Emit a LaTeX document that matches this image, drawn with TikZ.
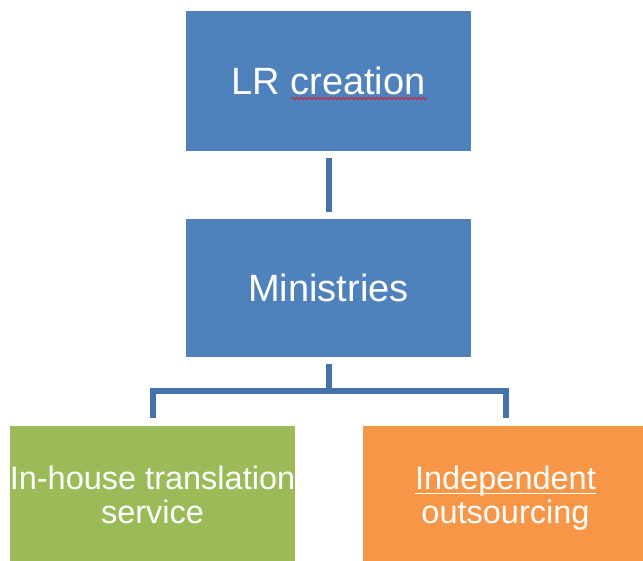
\documentclass[tikz,border=0pt]{standalone}
\usepackage{fontspec}
\setmainfont{Liberation Sans}
\usetikzlibrary{decorations.pathmorphing}

\definecolor{boxblue}{HTML}{4F81BD}
\definecolor{linkblue}{HTML}{4672AC}
\definecolor{boxgreen}{HTML}{9BBB59}
\definecolor{boxorange}{HTML}{F79646}
\definecolor{spellred}{HTML}{D8202A}

% word with a solid underline drawn just below the baseline
\newlength\ulw
\newcommand\ulword[1]{\settowidth{\ulw}{#1}\rlap{\rule[-4.5pt]{\ulw}{1.6pt}}#1}
% text line whose descenders do not count for vertical centring
\newcommand\nodepth[1]{\raisebox{0pt}[\height][0pt]{#1}}

\tikzset{
  orgbox/.style={rectangle, draw=none, inner sep=0pt, minimum width=285pt,
                 minimum height=138pt, text=white, align=center},
  bigtext/.style={font=\fontsize{38}{44}\selectfont},
  smalltext/.style={font=\fontsize{32.5}{34}\selectfont},
  link/.style={draw=linkblue, line width=6pt, line cap=butt},
  squiggle/.style={draw=spellred, line width=0.9pt,
                   decorate, decoration={snake, segment length=4.2pt, amplitude=1.1pt}}
}

\begin{document}
\begin{tikzpicture}[x=1pt, y=-1pt]
  \useasboundingbox (0,0) rectangle (643,561);
  \clip (0,0) rectangle (643,561);

  % boxes
  \node[orgbox, bigtext, fill=boxblue, minimum height=140pt] (lr) at (328.5,81) {LR creation};
  \node[orgbox, bigtext, fill=boxblue] (min) at (328.5,288) {Ministries};
  \node[orgbox, smalltext, fill=boxgreen] (inhouse) at (152.5,495)
       {In-house translation\\service};
  \node[orgbox, smalltext, fill=boxorange] (outsrc) at (505.5,495)
       {\ulword{Independent}\\\nodepth{outsourcing}};

  % spell-check mark under "creation"
  \draw[squiggle] ([xshift=-37pt, yshift=-17.5pt]lr.center) -- ([xshift=98pt, yshift=-17.5pt]lr.center);

  % connectors
  \draw[link, shorten <=7pt, shorten >=7pt] (lr.south) -- (min.north);
  \draw[link, shorten <=7pt, shorten >=8pt] (min.south) -- ++(0,34) -| (inhouse.north);
  \draw[link, shorten <=7pt, shorten >=8pt] (min.south) -- ++(0,34) -| (outsrc.north);
\end{tikzpicture}
\end{document}
